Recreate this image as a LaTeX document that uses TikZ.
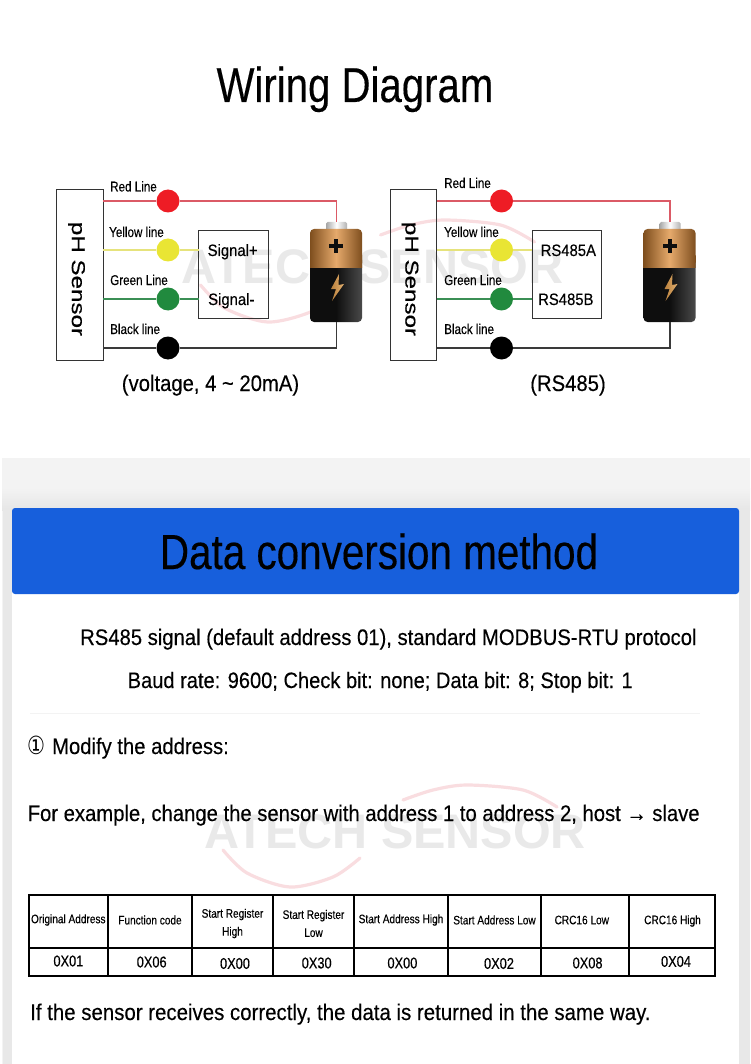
\documentclass[tikz,border=0pt]{standalone}
\usepackage{fontspec}
\setmainfont[FakeStretch=.9, FakeBold=.25]{Liberation Sans}
\newfontfamily\headfont[FakeStretch=.82, FakeBold=.25]{Liberation Sans}
\newfontfamily\widefont[FakeStretch=1.3, FakeBold=.6]{Liberation Sans}
\newfontfamily\markfont{Liberation Sans}
\newfontfamily\symfont[FakeStretch=.8]{DejaVu Sans}
\definecolor{panelgrey}{HTML}{F3F3F3}
\definecolor{sidegrey}{HTML}{E8E8E8}
\definecolor{shadegrey}{HTML}{E6E6E6}
\definecolor{headblue}{HTML}{175FDC}
\definecolor{markgrey}{HTML}{E9E9E9}
\definecolor{markpink}{HTML}{F9DDE0}
\definecolor{dotred}{HTML}{EE1C25}
\definecolor{dotyellow}{HTML}{E9E534}
\definecolor{dotgreen}{HTML}{218A3E}
\definecolor{wirered}{HTML}{DB5A66}
\definecolor{wireyellow}{HTML}{E6E37C}
\definecolor{wiregreen}{HTML}{3B8F55}
\definecolor{wireblack}{HTML}{3A3A3A}
\definecolor{copperdark}{HTML}{7E4E1E}
\definecolor{copperlight}{HTML}{E6AA6C}
\definecolor{cellblack}{HTML}{0E0E0E}
\definecolor{celledge}{HTML}{4A4A4A}
\definecolor{boltlight}{HTML}{E2B070}
\definecolor{boltdark}{HTML}{B9803C}
\tikzset{
    dot/.style={circle, inner sep=0pt, minimum size=23pt},
    box/.style={draw=black!80, line width=1pt, inner sep=0pt, outer sep=0pt},
    wirelbl/.style={anchor=base west, inner sep=0pt, font=\headfont\fontsize{14.2}{16}\selectfont},
    signallbl/.style={anchor=base west, inner sep=0pt, font=\fontsize{16.5}{18}\selectfont},
    bodytxt/.style={anchor=base west, inner sep=0pt, font=\fontsize{22.5}{26}\selectfont},
    caption/.style={anchor=base, inner sep=0pt, font=\fontsize{22.5}{26}\selectfont},
    sensortxt/.style={rotate=-90, inner sep=0pt, font=\widefont\fontsize{18.6}{20}\selectfont},
    cell/.style={draw=black, line width=1.2pt, inner sep=0pt, outer sep=0pt},
    cellhead/.style={inner sep=0pt, align=center, font=\headfont\fontsize{12.3}{18}\selectfont},
    cellval/.style={inner sep=0pt, font=\headfont\fontsize{15.6}{18}\selectfont},
    copper/.style={left color=copperdark, right color=copperdark, middle color=copperlight},
    blackcell/.style={left color=cellblack, right color=celledge, middle color=cellblack},
    battery/.pic={
        \shade[left color=gray!70, right color=gray!60, middle color=white, rounded corners=1.5pt] (-10,-54) rectangle (11,-44);
        \shade[blackcell, rounded corners=4pt] (-26,-20) -- (-26,46) -- (26,46) -- (26,-20) -- cycle;
        \shade[copper, rounded corners=4pt] (-26,-8) -- (-26,-47) -- (26,-47) -- (26,-8);
        \shade[copper] (-26,-20) rectangle (26,-13);
        \fill[cellblack] (-7,-32) rectangle (7,-28);
        \fill[cellblack] (-2,-37) rectangle (2,-23);
        \shade[left color=boltdark, right color=boltlight] (3,-2) -- (-5,13) -- (0,13) -- (-4,25) -- (8,8) -- (2.5,9) -- cycle;
        \coordinate (-top) at (0.5,-54);
        \coordinate (-bot) at (0.5,46);
    },
    watermark/.pic={
        \node[text=markgrey, font=\markfont\bfseries\fontsize{48.5}{50}\selectfont] (-txt) at (0,0) {ATECH SENSOR};
        \draw[markpink, line width=3.2pt, line cap=round] plot[smooth] coordinates {(8,-32) (38,-42) (72,-47) (128,-42) (162,-25)};
        \draw[markpink, line width=3.2pt, line cap=round] plot[smooth] coordinates {(-172,18) (-148,41) (-105,55) (-62,45) (-35,26)};
    }
}
\begin{document}
\begin{tikzpicture}[x=1pt, y=-1pt]
    \useasboundingbox (0,0) rectangle (750,1064);

    % page background
    \fill[panelgrey] (2,458) rectangle (750,1064);
    \shade[top color=panelgrey, bottom color=shadegrey] (2,488) rectangle (750,510);
    \fill[sidegrey] (3,510) rectangle (750,1064);
    \fill[white] (12,590) rectangle (739,1064);
    \node[fill=headblue, rounded corners=3pt, minimum width=727pt, minimum height=86pt, inner sep=0pt] (banner) at (375.5,551) {};
    \draw[panelgrey, line width=.8pt] (30,713) -- (700,713);

    \pic (mark1) at (372.5,267) {watermark};
    \pic (mark2) at (395,832) {watermark};

    % headings
    \node[anchor=base, inner sep=0pt, font=\headfont\fontsize{49}{52}\selectfont] (title) at (355,102) {Wiring Diagram};
    \node[anchor=base, inner sep=0pt, font=\headfont\fontsize{49.3}{52}\selectfont] (bannertxt) at (379,569) {Data conversion method};

    % left diagram
    \node[box, minimum width=46.5pt, minimum height=170pt] (sen1) at (80.2,275) {};
    \node[sensortxt] (sen1txt) at (76.5,279) {pH Sensor};
    \node[box, minimum width=69.5pt, minimum height=87pt] (mod1) at (233.7,274.5) {};
    \node[dot, fill=dotred] (r1) at (168,201) {};
    \node[dot, fill=dotyellow] (y1) at (168,250) {};
    \node[dot, fill=dotgreen] (g1) at (168,299) {};
    \node[dot, fill=black] (k1) at (168,348) {};
    \pic (bat1) at (336,276) {battery};
    \node[wirelbl] (rl1) at (110,191.5) {Red Line};
    \node[wirelbl] (yl1) at (109,237) {Yellow line};
    \node[wirelbl] (gl1) at (110,285) {Green Line};
    \node[wirelbl] (kl1) at (110,334) {Black line};
    \node[signallbl] (sa1) at (207.5,256) {Signal+};
    \node[signallbl] (sb1) at (208,305) {Signal-};
    \node[caption] (cap1) at (210.5,391) {(voltage, 4 \char`~{} 20mA)};

    % right diagram
    \node[box, minimum width=46.5pt, minimum height=170pt] (sen2) at (413.5,275) {};
    \node[sensortxt] (sen2txt) at (410,279) {pH Sensor};
    \node[box, minimum width=69.5pt, minimum height=87pt] (mod2) at (567.2,274.5) {};
    \node[dot, fill=dotred] (r2) at (501.5,201) {};
    \node[dot, fill=dotyellow] (y2) at (501.5,250) {};
    \node[dot, fill=dotgreen] (g2) at (501.5,299) {};
    \node[dot, fill=black] (k2) at (501.5,348) {};
    \pic (bat2) at (669.5,276) {battery};
    \node[wirelbl] (rl2) at (444,188) {Red Line};
    \node[wirelbl] (yl2) at (444,237) {Yellow line};
    \node[wirelbl] (gl2) at (444,285) {Green Line};
    \node[wirelbl] (kl2) at (444,334) {Black line};
    \node[signallbl] (sa2) at (540.5,256) {RS485A};
    \node[signallbl] (sb2) at (538,305) {RS485B};
    \node[caption] (cap2) at (568,391) {(RS485)};

    % wires
    \foreach \i in {1,2} {
        \draw[wirered, line width=1.2pt] (sen\i.east |- r\i) -- (r\i);
        \draw[wirered, line width=1.2pt] (r\i) -| (bat\i-top);
        \draw[wireyellow, line width=1.2pt] (sen\i.east |- y\i) -- (y\i);
        \draw[wireyellow, line width=1.2pt] (y\i) -- (mod\i.west |- y\i);
        \draw[wiregreen, line width=1.2pt] (sen\i.east |- g\i) -- (g\i);
        \draw[wiregreen, line width=1.2pt] (g\i) -- (mod\i.west |- g\i);
        \draw[wireblack, line width=1.2pt] (sen\i.east |- k\i) -- (k\i);
        \draw[wireblack, line width=1.2pt] (k\i) -| (bat\i-bot);
    }

    % text of the panel
    \node[bodytxt] (proto) at (80,645) {RS485 signal (default address 01), standard MODBUS-RTU protocol};
    \node[bodytxt] (baud) at (127.5,688) {\fontsize{22.3}{26}\selectfont Baud rate: 9600; Check bit: none; Data bit: 8; Stop bit: 1};
    \node[bodytxt] (modify) at (27,754) {{\symfont\fontsize{25}{26}\selectfont ①}\kern7pt Modify the address:};
    \node[bodytxt] (example) at (27.5,821) {For example, change the sensor with address 1 to address 2, host → slave};
    \node[bodytxt] (same) at (30,1020) {\fontsize{22.7}{26}\selectfont If the sensor receives correctly, the data is returned in the same way.};

    % table
    \foreach \n/\xa/\xb/\hx/\hy/\txt/\vx/\vy/\val in {
        1/28.7/108/68.3/920/{Original Address}/68.4/961/0X01,
        2/108/192/150/920/{Function code}/151.7/962/0X06,
        3/192/273/232.5/923.5/{Start Register\\High}/235/963.5/0X00,
        4/273/354/313.5/923.5/{Start Register\\Low}/316.7/963/0X30,
        5/354/448/401/920/{Start Address High}/402.4/963/0X00,
        6/448/541/494.5/920/{Start Address Low}/499/963.5/0X02,
        7/541/629/581.8/920/{CRC16 Low}/587.6/963/0X08,
        8/629/715/672.5/921/{CRC16 High}/676/961.5/0X04} {
        \node[cell, minimum width={(\xb-\xa)*1pt}, minimum height=53pt] (h\n) at ({(\xa+\xb)/2},921.5) {};
        \node[cell, minimum width={(\xb-\xa)*1pt}, minimum height=28pt] (v\n) at ({(\xa+\xb)/2},962) {};
        \node[cellhead] (ht\n) at (\hx,\hy) {\txt};
        \node[cellval] (vt\n) at (\vx,\vy) {\val};
    }
    \draw[line width=1.8pt] (h1.north west) rectangle (v8.south east);
\end{tikzpicture}
\end{document}
